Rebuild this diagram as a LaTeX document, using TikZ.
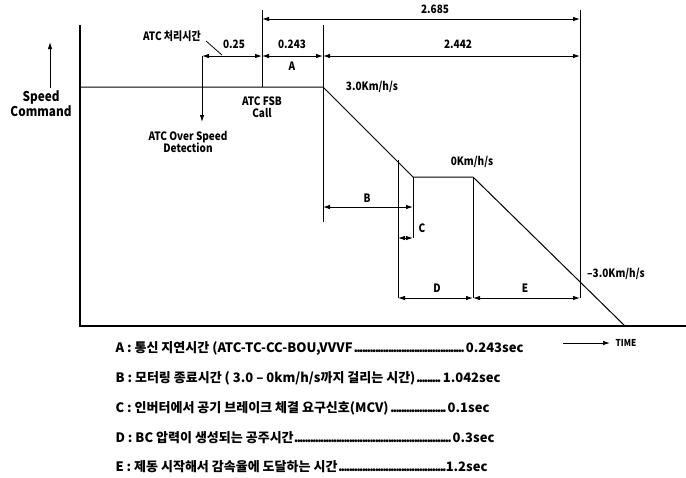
\documentclass[tikz,border=0pt]{standalone}
\usepackage{fontspec}
\setmainfont{Noto Sans CJK KR}[FakeStretch=0.87]
\newfontfamily\legfont{Noto Sans CJK KR}[FakeStretch=1.0,Ligatures=TeX]
\usetikzlibrary{arrows.meta}
\newcommand\dotlead{\leaders\hbox to 2.6pt{\hss.\hss}\hfill}
\newcommand\legline[3]{\hbox to #1pt{#2\dotlead #3}}
\begin{document}
\begin{tikzpicture}[x=1pt,y=-1pt,line width=1pt,
  tip/.style={-{Latex[length=7pt,width=4.5pt]}},
  dim/.style={{Latex[length=7pt,width=4.5pt]}-{Latex[length=7pt,width=4.5pt]},line width=0.9pt},
  guide/.style={line width=0.9pt},
  lbl/.style={inner sep=0pt,font=\bfseries\fontsize{11.5}{12.5}\selectfont,align=center},
  big/.style={inner sep=0pt,font=\bfseries\fontsize{13.5}{15}\selectfont,align=center},
  leg/.style={inner sep=0pt,anchor=west,font=\legfont\bfseries\fontsize{13}{14}\selectfont}]
\useasboundingbox (0,0) rectangle (686,477);
% axes and speed profile
\coordinate (axTop) at (80,25);
\coordinate (O) at (80,326);
\coordinate (axR) at (686,326);
\coordinate (s0) at (80,87);
\coordinate (p1) at (323,87);
\coordinate (p2) at (413,177);
\coordinate (p3) at (473,177);
\coordinate (p4) at (625,326);
\draw[line width=1.2pt] (axTop) -- (O) -- (axR);
\draw (s0) -- (p1) -- (p2) -- (p3) -- (p4);
% vertical guides
\coordinate (v262t) at (262,10);
\coordinate (v323t) at (323,25);
\coordinate (v323b) at (323,222);
\coordinate (v398t) at (398,160);
\coordinate (v398b) at (398,298);
\coordinate (v413b) at (413,238);
\coordinate (v473b) at (473,298);
\coordinate (v580t) at (580,10);
\coordinate (v580b) at (580,298);
\coordinate (v262b) at (262,87);
\draw[guide] (v262t) -- (v262b);
\draw[guide] (v323t) -- (v323b);
\draw[guide] (v398t) -- (v398b);
\draw[guide] (p2) -- (v413b);
\draw[guide] (p3) -- (v473b);
\draw[guide] (v580t) -- (v580b);
% top dimensions
\coordinate (d1l) at (262,19);
\coordinate (d1r) at (580,19);
\draw[dim] (d1l) -- (d1r);
\coordinate (a0) at (202,56);
\coordinate (a1) at (262,56);
\coordinate (a2) at (323,56);
\coordinate (a3) at (580,56);
\draw[dim] (a0) -- (a1);
\draw[dim] (a1) -- (a2);
\draw[dim] (a2) -- (a3);
\coordinate (osd) at (202,122);
\draw[guide,tip] (a0) -- (osd);
% lower dimensions
\coordinate (bl) at (323,207);
\coordinate (br) at (413,207);
\draw[dim] (bl) -- (br);
\coordinate (cl) at (398,238);
\draw[dim] (cl) -- (v413b);
\coordinate (dl) at (398,298);
\coordinate (dr) at (473,298);
\coordinate (er) at (580,298);
\draw[dim] (dl) -- (dr);
\draw[dim] (dr) -- (er);
% speed command arrow
\coordinate (sc0) at (50,88);
\coordinate (sc1) at (50,42);
\draw[guide,tip] (sc0) -- (sc1);
% time arrow
\coordinate (t0) at (563,343);
\coordinate (t1) at (610,343);
\draw[guide,tip] (t0) -- (t1);
% labels
\node[lbl] (l2685) at (435,9) {2.685};
\node[lbl] (l025) at (234,44) {0.25};
\node[lbl] (l0243) at (292,44) {0.243};
\node[lbl] (l2442) at (458,44) {2.442};
\node[lbl] (lA) at (292,66) {A};
\node[lbl] (latc) at (172,36) {ATC 처리시간};
\coordinate (ld0) at (206,41);
\coordinate (ld1) at (222,55);
\draw[line width=0.8pt] (ld0) -- (ld1);
\node[lbl] (lfsb) at (262,107) {ATC FSB\\Call};
\node[lbl] (lover) at (188,142) {ATC Over Speed\\Detection};
\node[big] (lspeed) at (41,104) {Speed\\Command};
\node[lbl] (l30) at (372,87) {3.0Km/h/s};
\node[lbl] (l0) at (472,162) {0Km/h/s};
\node[lbl] (lm30) at (616,274) {–3.0Km/h/s};
\node[lbl] (lB) at (367,198) {B};
\node[lbl] (lC) at (422,228) {C};
\node[lbl] (lD) at (437,288) {D};
\node[lbl] (lE) at (525,288) {E};
\node[inner sep=0pt,font=\bfseries\fontsize{9.5}{10}\selectfont] (ltime) at (626,343) {TIME};
% legend
\node[leg] (legA) at (115,348) {\legline{408}{A : 통신 지연시간 (ATC-TC-CC-BOU,VVVF}{0.243sec}};
\node[leg] (legB) at (115,378) {\legline{385}{B : 모터링 종료시간 ( 3.0 – 0km/h/s까지 걸리는 시간)}{1.042sec}};
\node[leg] (legC) at (115,408) {\legline{374}{C : 인버터에서 공기 브레이크 체결 요구신호(MCV)}{0.1sec}};
\node[leg] (legD) at (115,438) {\legline{379}{D : BC 압력이 생성되는 공주시간}{0.3sec}};
\node[leg] (legE) at (115,467) {\legline{372}{E : 제동 시작해서 감속율에 도달하는 시간}{1.2sec}};
\end{tikzpicture}
\end{document}
